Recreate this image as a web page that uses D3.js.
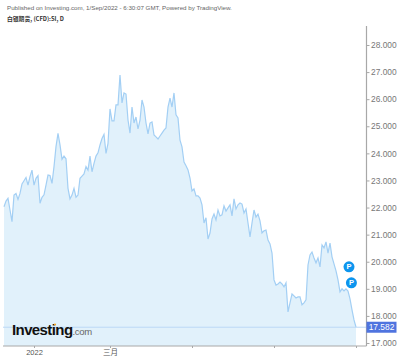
<!DOCTYPE html>
<html>
<head>
<meta charset="utf-8">
<script src="https://cdn.jsdelivr.net/npm/d3@7"></script>
<style>
html, body { margin: 0; padding: 0; background: #fff; }
svg { display: block; font-family: "Liberation Sans", Arial, sans-serif; }
.axis path, .axis line { stroke: #a8a8a8; }
.axis text { fill: #777; }
</style>
</head>
<body>
<div id="chart"></div>
<script>
// silver futures close, one value per trading day
var prices = [
	22.03, 22.24, 22.34, 21.91, 21.48, 22.46, 22.52, 22.30, 22.52, 22.87,
	22.99, 23.11, 22.83, 23.14, 23.38, 22.83, 23.08, 23.18, 22.16, 22.38,
	22.47, 22.83, 23.20, 23.18, 22.89, 23.51, 24.25, 24.74, 24.31, 23.78,
	23.90, 23.80, 22.71, 22.32, 22.46, 22.71, 22.38, 22.46, 23.08, 23.16,
	23.24, 23.51, 23.38, 23.90, 23.32, 23.63, 23.90, 24.02, 24.31, 24.55,
	24.70, 24.00, 24.37, 25.64, 25.20, 25.20, 25.79, 25.79, 26.89, 25.86,
	26.23, 26.19, 25.23, 24.75, 25.71, 25.12, 25.34, 24.90, 25.23, 25.97,
	25.71, 25.12, 24.72, 25.12, 25.16, 24.68, 24.61, 24.53, 24.64, 24.75,
	24.86, 24.94, 25.71, 26.04, 25.71, 26.23, 25.42, 25.31, 24.49, 24.24,
	23.68, 23.54, 23.39, 23.09, 22.61, 22.69, 22.43, 22.43, 22.35, 22.10,
	21.43, 21.62, 20.84, 21.06, 21.58, 21.76, 21.54, 21.91, 21.69, 21.73,
	22.06, 21.87, 21.99, 22.10, 21.69, 22.32, 21.95, 22.10, 22.17, 22.13,
	21.80, 21.95, 21.43, 20.92, 21.43, 21.91, 21.65, 21.76, 21.51, 21.06,
	21.14, 21.17, 20.80, 20.66, 20.32, 19.33, 19.14, 19.18, 19.25, 19.18,
	19.07, 19.22, 18.15, 18.48, 18.81, 18.74, 18.66, 18.70, 18.70, 18.41,
	18.48, 18.59, 19.88, 20.25, 20.36, 20.14, 19.96, 20.14, 19.81, 20.62,
	20.51, 20.73, 20.32, 20.69, 20.18, 19.92, 19.66, 19.33, 18.89, 19.00,
	18.92, 19.00, 18.92, 18.63, 18.22, 17.85, 17.582
];

var priceTicks = [17, 18, 19, 20, 21, 22, 23, 24, 25, 26, 27, 28];
var dayTicks = [15, 53, 94, 135, 176];
var dayLabels = ["2022", "三月", "", "", ""];
var markerDays = [172.5, 173.7];
var markerPrices = [19.81, 19.22];
var lastPrice = 17.582;

var width = 400, height = 361;
var plotLeft = 3, plotRight = 366.5, plotTop = 26, plotBottom = 346;

var svg = d3.select("#chart").append("svg")
	.attr("width", width)
	.attr("height", height);

var x = d3.scaleLinear().domain([0, prices.length - 1]).range([4, 356]);
var y = d3.scaleLinear().domain([17, 28]).range([343, 45]);

svg.append("defs").append("clipPath")
	.attr("id", "axis-clip")
	.append("rect")
	.attr("x", plotRight)
	.attr("y", plotTop)
	.attr("width", width - plotRight)
	.attr("height", plotBottom - plotTop);

var area = d3.area()
	.x(function(d, i) { return x(i); })
	.y0(plotBottom)
	.y1(function(d) { return y(d); });

var line = d3.line()
	.x(function(d, i) { return x(i); })
	.y(function(d) { return y(d); });

svg.append("path")
	.datum(prices)
	.attr("fill", "#e1f1fb")
	.attr("d", area);

svg.append("path")
	.datum(prices)
	.attr("fill", "none")
	.attr("stroke", "#a3cff4")
	.attr("stroke-width", 1.2)
	.attr("d", line);

/* last price line */
svg.append("line")
	.attr("x1", plotLeft)
	.attr("x2", plotRight)
	.attr("y1", y(lastPrice))
	.attr("y2", y(lastPrice))
	.attr("stroke", "#bcd8f6")
	.attr("stroke-width", 1);

/* axes */
var yAxis = d3.axisRight(y)
	.tickValues(priceTicks)
	.tickFormat(d3.format(".3f"))
	.tickSize(3)
	.tickPadding(1.5);

var yAxisG = svg.append("g")
	.attr("class", "axis")
	.attr("clip-path", "url(#axis-clip)")
	.append("g")
	.attr("transform", "translate(" + plotRight + ",0)")
	.call(yAxis);
yAxisG.select(".domain").remove();
yAxisG.selectAll("text").style("font-size", "8.4px");

var xAxis = d3.axisBottom(x)
	.tickValues(dayTicks)
	.tickFormat(function(d, i) { return dayLabels[i]; })
	.tickSize(2)
	.tickPadding(2);

var xAxisG = svg.append("g")
	.attr("class", "axis")
	.attr("transform", "translate(0," + plotBottom + ")")
	.call(xAxis);
xAxisG.select(".domain").remove();
xAxisG.selectAll("text")
	.style("font-size", "7.5px")
	.style("fill", "#555")
	.style("font-family", "'Liberation Sans', 'Noto Sans CJK SC', sans-serif");

svg.append("line")
	.attr("x1", plotLeft).attr("x2", plotRight)
	.attr("y1", plotBottom).attr("y2", plotBottom)
	.attr("stroke", "#a8a8a8")
	.attr("stroke-width", 1);

svg.append("line")
	.attr("x1", plotRight).attr("x2", plotRight)
	.attr("y1", plotTop).attr("y2", plotBottom)
	.attr("stroke", "#a8a8a8")
	.attr("stroke-width", 1.2);

/* last price tag */
svg.append("rect")
	.attr("x", plotRight)
	.attr("y", y(lastPrice) - 5.5)
	.attr("width", 30)
	.attr("height", 11)
	.attr("fill", "#4f74df");

svg.append("text")
	.attr("x", plotRight + 15)
	.attr("y", y(lastPrice) + 3)
	.attr("text-anchor", "middle")
	.attr("fill", "#fff")
	.style("font-size", "8.4px")
	.text(d3.format(".3f")(lastPrice));

/* P markers */
var markers = svg.selectAll(".marker")
	.data(markerDays)
	.enter()
	.append("g")
	.attr("class", "marker")
	.attr("transform", function(d, i) {
		return "translate(" + x(d) + "," + y(markerPrices[i]) + ")";
	});

markers.append("circle")
	.attr("r", 5.5)
	.attr("fill", "#0d95ee");

markers.append("text")
	.attr("text-anchor", "middle")
	.attr("y", 2.6)
	.attr("fill", "#fff")
	.style("font-size", "7.5px")
	.style("font-weight", "bold")
	.text("P");

/* header */
svg.append("text")
	.attr("x", 7)
	.attr("y", 10)
	.attr("fill", "#666")
	.style("font-size", "6.2px")
	.text("Published on Investing.com, 1/Sep/2022 - 6:30:07 GMT, Powered by TradingView.");

svg.append("text")
	.attr("x", 7)
	.attr("y", 20.5)
	.attr("fill", "#333")
	.style("font-size", "5.8px")
	.style("font-weight", "bold")
	.style("font-family", "'Noto Sans CJK SC', 'Liberation Sans', sans-serif")
	.text("白银期货, (CFD):SI, D");

/* logo */
var logo = svg.append("text")
	.attr("x", 12)
	.attr("y", 335)
	.attr("fill", "#111")
	.style("font-size", "15px")
	.style("font-weight", "bold")
	.style("letter-spacing", "-0.6px");
logo.append("tspan").text("Investing");
logo.append("tspan")
	.attr("fill", "#666")
	.style("font-size", "9.5px")
	.style("font-weight", "normal")
	.style("letter-spacing", "-0.3px")
	.text(".com");

svg.append("circle")
	.attr("cx", 55)
	.attr("cy", 324.5)
	.attr("r", 1.1)
	.attr("fill", "#f5a623");
</script>
</body>
</html>
